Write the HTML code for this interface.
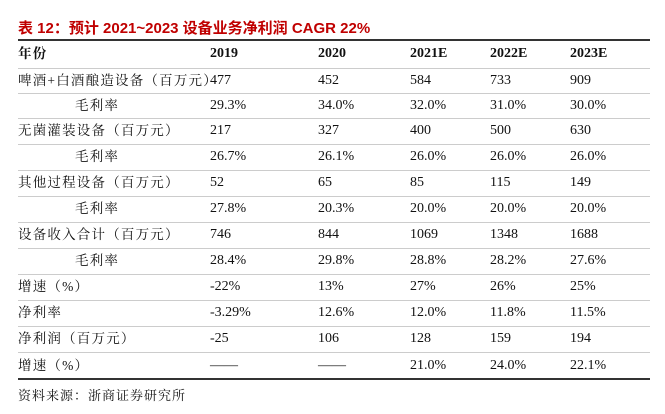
<!DOCTYPE html>
<html><head><meta charset="utf-8"><style>
body{margin:0;width:665px;height:414px;background:#fff;position:relative;overflow:hidden;font-family:"Liberation Serif","Noto Serif CJK SC",serif;color:#111}
.t{position:absolute;left:18px;top:17px;font:bold 15px "Liberation Sans","Noto Sans CJK SC",sans-serif;color:#c00000;white-space:nowrap}
.ln{position:absolute;left:18px;width:632px;height:1px;background:#ccc}
.thick{height:2px;background:#333}
.c{position:absolute;font-size:14px;white-space:nowrap;line-height:16px}
.lab{font-family:"Liberation Serif","Noto Serif CJK SC",serif;font-size:13.5px;letter-spacing:1.2px}
.h{font-weight:bold}
.src{position:absolute;left:18px;top:385px;font-size:13px;letter-spacing:1px;font-family:"Noto Serif CJK SC",serif}
</style></head><body>
<div class="t">表 12：预计 2021~2023 设备业务净利润 CAGR 22%</div>
<div id="tbl"></div>
<div class="src">资料来源：浙商证券研究所</div>
<script>
const headers=["年份","2019","2020","2021E","2022E","2023E"];
const labels=["啤酒+白酒酿造设备（百万元）","毛利率","无菌灌装设备（百万元）","毛利率","其他过程设备（百万元）","毛利率","设备收入合计（百万元）","毛利率","增速（%）","净利率","净利润（百万元）","增速（%）"];
const indent=[0,1,0,1,0,1,0,1,0,0,0,0];
const values=[
["477","452","584","733","909"],
["29.3%","34.0%","32.0%","31.0%","30.0%"],
["217","327","400","500","630"],
["26.7%","26.1%","26.0%","26.0%","26.0%"],
["52","65","85","115","149"],
["27.8%","20.3%","20.0%","20.0%","20.0%"],
["746","844","1069","1348","1688"],
["28.4%","29.8%","28.8%","28.2%","27.6%"],
["-22%","13%","27%","26%","25%"],
["-3.29%","12.6%","12.0%","11.8%","11.5%"],
["-25","106","128","159","194"],
["——","——","21.0%","24.0%","22.1%"]];
const colX=[18,210,318,410,490,570];
const bounds=[40,68,93,118,144,170,196,222,248,274,300,326,352,379];
const root=document.getElementById('tbl');
function line(y,thick){const d=document.createElement('div');d.className='ln'+(thick?' thick':'');d.style.top=y+'px';


root.appendChild(d);}
function cell(x,y,txt,cls,name){const d=document.createElement('div');d.className='c '+cls;d.style.left=x+'px';d.style.top=y+'px';d.textContent=txt;


root.appendChild(d);}
bounds.forEach((y,i)=>{if(i>0&&i<bounds.length-1)line(y,false);});
line(bounds[0]-1,true);line(bounds[bounds.length-1]-1,true);
headers.forEach((h,i)=>cell(colX[i],(bounds[0]+bounds[1])/2-8,h,'h'+(i==0?' lab':''),'header-cell'));
labels.forEach((l,r)=>{const y=(bounds[r+1]+bounds[r+2])/2-8;
cell(colX[0]+(indent[r]?57:0),y,l,'lab','row-label');
values[r].forEach((v,c)=>cell(colX[c+1],y,v,'','value-cell'));});
</script>
</body></html>
